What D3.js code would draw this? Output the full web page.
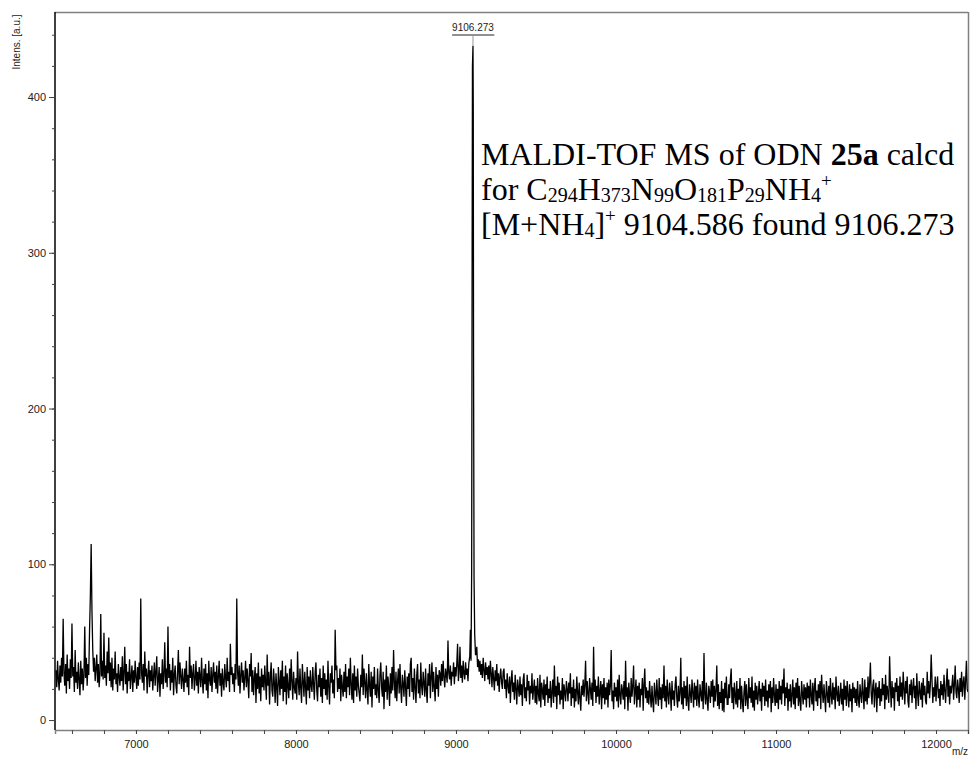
<!DOCTYPE html>
<html><head><meta charset="utf-8">
<script src="https://cdn.jsdelivr.net/npm/d3@7"></script>
<style>body{margin:0;background:#fff} svg{display:block}</style>
</head><body><svg id="c" width="971" height="758"></svg>
<script>
// m/z sampling grid of the read-off intensities
const mzStart = 6500, mzStep = 5;
// intensities (a.u.), one row per 100 m/z
const intensity = [
 32,21,38,26,19,35,24,40,28,65,30,22,36,17,42,25,33,20,39,27,
 62,28,34,18,45,24,31,20,37,26,16,38,23,33,19,29,60,27,40,22,
 36,29,58,80,113,70,45,31,40,25,33,42,24,36,21,30,68,28,38,26,
 56,27,35,22,44,30,53,25,37,21,40,19,33,26,44,23,30,18,36,28,
 22,34,25,41,19,30,47,23,36,17,31,25,39,20,28,35,18,32,24,38,
 27,20,34,22,37,26,78,30,24,36,19,44,28,33,17,29,38,21,32,25,
 35,19,28,37,22,31,41,18,26,34,15,30,23,39,20,29,50,24,33,21,
 60,27,36,19,32,24,40,16,29,35,22,17,31,45,23,37,28,20,33,26,
 18,33,24,38,21,29,16,47,27,35,20,30,36,19,26,38,22,31,17,34,
 28,21,40,25,17,33,23,36,19,30,14,38,26,22,34,18,29,37,24,31,
 20,35,17,28,38,22,30,15,33,24,19,36,27,21,40,25,31,18,49,29,
 34,23,30,18,36,26,78,31,22,35,17,29,37,24,32,19,27,38,21,33,
 25,14,36,28,43,18,32,16,27,34,11,30,20,37,17,28,12,33,21,29,
 19,35,24,13,42,22,31,10,28,37,19,15,33,24,11,30,21,9,34,25,
 16,32,20,38,12,28,18,35,10,30,22,14,33,19,39,25,13,31,21,17,
 27,13,44,24,16,33,20,11,36,25,15,31,21,10,34,19,28,14,32,22,
 18,34,23,13,31,37,19,12,29,21,33,15,27,11,35,20,30,16,26,13,
 38,21,10,30,24,35,17,26,14,58,32,35,18,27,20,33,12,29,21,15,
 31,18,36,14,28,21,33,16,40,23,13,30,11,35,19,28,15,33,22,17,
 12,29,21,42,16,33,24,14,30,19,10,36,22,15,31,8,28,20,34,16,
 23,14,33,19,11,29,37,21,15,31,7,26,18,35,13,28,21,9,30,17,
 34,19,45,24,14,31,12,25,33,17,36,20,11,29,23,15,32,21,9,28,
 20,30,15,36,40,18,27,13,33,21,11,29,36,17,26,14,37,22,16,31,
 24,15,33,19,11,30,22,36,14,28,37,18,31,21,12,34,20,29,15,32,
 30,22,36,25,38,27,21,33,29,24,51,30,26,35,22,31,28,37,23,34,
 28,36,49,25,31,47,27,35,24,38,30,26,37,29,33,25,36,40,30,40,
 30,30,30,30,30,42,47,34,39,31,38,29,36,27,40,32,25,37,29,34,
 26,35,23,38,30,21,34,27,19,32,25,36,22,30,18,28,33,24,20,31,
 33,20,26,14,30,22,17,28,11,25,32,18,24,13,29,20,10,26,21,15,
 28,16,23,9,26,30,14,21,12,29,19,25,10,22,17,30,13,20,26,11,
 22,10,27,17,12,29,8,24,19,13,26,9,23,16,28,11,20,14,25,8,
 18,26,11,35,15,22,7,28,16,24,10,19,13,27,7,23,18,12,25,20,
 12,24,17,30,9,21,14,26,8,20,12,28,18,10,24,14,6,22,16,26,
 15,23,38,12,25,17,10,27,20,13,24,9,47,18,26,11,22,15,28,10,
 18,25,7,23,14,27,10,21,13,24,8,26,16,22,45,12,19,7,24,15,
 21,12,26,8,29,16,10,23,19,13,25,7,38,15,21,6,24,16,11,27,
 15,22,35,10,18,26,8,22,13,24,8,20,16,27,6,23,33,14,21,11,
 19,10,25,15,8,22,12,5,24,17,10,26,16,9,27,13,21,7,23,14,
 35,12,22,8,26,16,10,24,18,6,25,13,19,9,23,28,14,8,22,12,
 17,40,10,21,7,25,14,22,9,28,12,6,23,17,11,26,18,8,24,13,
 22,9,26,14,8,23,17,12,25,7,43,16,10,24,13,6,22,18,11,25,
 15,26,8,22,12,19,35,9,23,7,18,11,25,6,20,5,24,14,28,10,
 10,23,14,26,33,11,21,7,24,16,10,25,8,20,13,27,7,22,12,5,
 18,25,9,23,13,7,27,14,21,11,28,8,19,6,24,13,22,10,17,25,
 12,20,6,24,15,22,9,26,12,19,8,23,14,25,5,21,11,27,16,9,
 23,11,20,7,25,13,22,10,26,17,33,9,21,14,24,6,20,12,23,8,
 16,26,10,21,7,24,14,27,9,22,12,6,25,17,10,23,13,21,8,24,
 14,22,8,26,16,10,24,6,21,27,12,19,9,23,14,25,7,29,18,11,
 23,14,5,25,17,11,22,8,27,16,10,24,13,21,7,28,17,12,22,9,
 15,24,10,20,6,26,13,22,9,25,16,8,23,12,20,5,24,14,21,11,
 20,9,25,13,8,23,16,11,27,17,7,26,12,21,10,28,14,24,37,17,
 10,22,26,8,19,24,5,21,14,25,9,20,12,27,16,23,7,29,13,22,
 17,11,41,22,8,25,14,21,6,24,18,27,12,22,9,28,15,24,13,31,
 20,10,25,17,28,12,8,23,16,26,11,21,27,14,22,7,30,17,9,25,
 18,13,24,8,27,16,22,12,10,31,17,25,14,23,42,26,11,21,15,28,
 12,22,28,14,20,9,25,16,23,13,29,19,11,24,33,15,26,10,22,17,
 23,29,13,23,35,18,14,26,20,11,27,18,31,15,24,28,13,25,38,20,
 18
];
// main peak, read at finer m/z
const peakMz  = [9086, 9090, 9094, 9098, 9101, 9103, 9106.273, 9108, 9110, 9113, 9117, 9122];
const peakInt = [40,   58,   38,   95,   300,  420,  433,      395,  222,  90,   55,   42];
const peakLabel = "9106.273";
const xMajorTicks = [7000, 8000, 9000, 10000, 11000, 12000];
const yMajorTicks = [0, 100, 200, 300, 400];

const svg = d3.select("#c");
const L = 55, R = 968, T = 12, B = 730;
const x = d3.scaleLinear().domain([6494, 12200]).range([L, R]);
const y = d3.scaleLinear().domain([-6.4, 454.6]).range([B, T]);

// merge data
let pts = intensity.map((v, i) => [mzStart + i * mzStep, v])
  .filter(d => d[0] < peakMz[0] || d[0] > peakMz[peakMz.length - 1]);
peakMz.forEach((m, i) => pts.push([m, peakInt[i]]));
pts.sort((a, b) => a[0] - b[0]);

svg.append("defs").append("clipPath").attr("id", "clip")
  .append("rect").attr("x", L).attr("y", T).attr("width", R - L).attr("height", B - T);

// frame
svg.append("line").attr("x1", L).attr("x2", R).attr("y1", T + 0.5).attr("y2", T + 0.5).attr("stroke", "#808080").attr("stroke-width", 1.5);
svg.append("line").attr("x1", R + 0.5).attr("x2", R + 0.5).attr("y1", T).attr("y2", B).attr("stroke", "#808080").attr("stroke-width", 1.5);

// spectrum
svg.append("path").datum(pts)
  .attr("clip-path", "url(#clip)")
  .attr("fill", "none").attr("stroke", "#000").attr("stroke-width", 1.3)
  .attr("stroke-linejoin", "miter")
  .attr("d", d3.line().x(d => x(d[0])).y(d => y(d[1])));

const fmt = d3.format("d");
// x axis
const xAxis = svg.append("g").attr("transform", `translate(0,${B})`)
  .call(d3.axisBottom(x).tickValues(d3.range(6600, 12201, 200)).tickSize(4).tickFormat(""));
xAxis.select(".domain").attr("stroke", "#808080").attr("stroke-width", 1.5);
xAxis.selectAll(".tick line").attr("stroke", "#444");
const xLab = svg.append("g").attr("transform", `translate(0,${B})`)
  .call(d3.axisBottom(x).tickValues(xMajorTicks).tickSize(4).tickPadding(6).tickFormat(fmt));
xLab.select(".domain").remove();
xLab.selectAll(".tick line").attr("stroke", "#444");
xLab.selectAll("text").attr("font-family", "Liberation Sans, Arial, sans-serif").attr("font-size", 11).attr("fill", "#222");

// y axis
const yMinor = svg.append("g").attr("transform", `translate(${L},0)`)
  .call(d3.axisLeft(y).tickValues(d3.range(0, 441, 20)).tickSize(3).tickFormat(""));
yMinor.select(".domain").attr("d", `M0,${T}V${B}`).attr("stroke", "#000").attr("stroke-width", 1.5);
yMinor.selectAll(".tick line").attr("stroke", "#444");
const yLab = svg.append("g").attr("transform", `translate(${L},0)`)
  .call(d3.axisLeft(y).tickValues(yMajorTicks).tickSize(6).tickPadding(3).tickFormat(fmt));
yLab.select(".domain").remove();
yLab.selectAll(".tick line").attr("stroke", "#444");
yLab.selectAll("text").attr("font-family", "Liberation Sans, Arial, sans-serif").attr("font-size", 11).attr("fill", "#222");

// axis titles
svg.append("text").attr("transform", "translate(20,42) rotate(-90)")
  .attr("text-anchor", "middle").attr("font-family", "Liberation Sans, Arial, sans-serif")
  .attr("font-size", 10).attr("fill", "#222").text("Intens. [a.u.]");
svg.append("text").attr("x", 968).attr("y", 755).attr("text-anchor", "end")
  .attr("font-family", "Liberation Sans, Arial, sans-serif").attr("font-size", 10).attr("fill", "#222").text("m/z");

// peak label
const px = x(9106.273);
const lab = svg.append("text").attr("x", px).attr("y", 31).attr("text-anchor", "middle")
  .attr("font-family", "Liberation Sans, Arial, sans-serif").attr("font-size", 10).attr("fill", "#222").text(peakLabel);
const bb = lab.node().getBBox();
svg.append("line").attr("x1", bb.x).attr("x2", bb.x + bb.width).attr("y1", 35).attr("y2", 35).attr("stroke", "#222").attr("stroke-width", 1);
svg.append("line").attr("x1", px).attr("x2", px).attr("y1", 35).attr("y2", y(433)).attr("stroke", "#999").attr("stroke-width", 1);

// annotation
const ann = svg.append("text").attr("font-family", "Liberation Serif, Times New Roman, serif").attr("font-size", 32).attr("fill", "#000");
const l1 = ann.append("tspan").attr("x", 481).attr("y", 165);
l1.append("tspan").text("MALDI-TOF MS of ODN ");
l1.append("tspan").attr("font-weight", "bold").text("25a");
l1.append("tspan").text(" calcd");
const t2 = svg.append("text").attr("font-family", "Liberation Serif, Times New Roman, serif").attr("font-size", 32).attr("x", 481).attr("y", 200);
const parts2 = [["for C", 0], ["294", 1], ["H", 0], ["373", 1], ["N", 0], ["99", 1], ["O", 0], ["181", 1], ["P", 0], ["29", 1], ["NH", 0], ["4", 1], ["+", 2]];
function addParts(t, parts) {
  let prev = 0;
  parts.forEach(([s, k]) => {
    const off = k === 1 ? 2 : k === 2 ? -13 : 0;
    t.append("tspan").attr("dy", off - prev).attr("font-size", k === 0 ? 32 : k === 1 ? 20 : 19).text(s);
    prev = off;
  });
}
addParts(t2, parts2);
const t3 = svg.append("text").attr("font-family", "Liberation Serif, Times New Roman, serif").attr("font-size", 32).attr("x", 481).attr("y", 235);
addParts(t3, [["[M+NH", 0], ["4", 1], ["]", 0], ["+", 2], [" 9104.586 found 9106.273", 0]]);
</script>
</body></html>
